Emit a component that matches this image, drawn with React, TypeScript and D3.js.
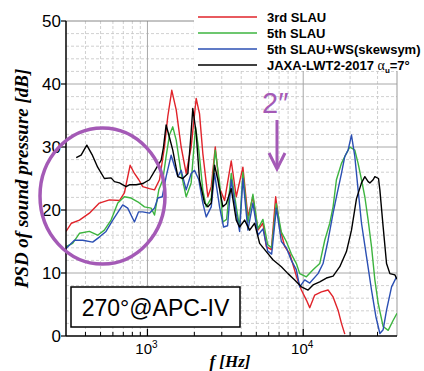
import React from "react";
import * as d3 from "d3";

// [frequency Hz, PSD dB]
const slau3rd: [number, number][] = [
  [300, 16.6], [325, 17.9], [366, 18.4], [424, 19.5], [491, 21.1], [570, 21.6], [661, 21.5], [711, 22.7],
  [774, 27.1], [825, 25.8], [880, 24.8], [932, 23.7], [1030, 23.4], [1110, 23.2], [1195, 24.8], [1286, 30.0],
  [1350, 34.8], [1433, 39.0], [1530, 35.9], [1646, 30.0], [1773, 25.8], [1908, 30.0], [2055, 37.7], [2159, 35.3],
  [2267, 29.0], [2442, 22.1], [2568, 23.7], [2725, 30.0], [2904, 23.5], [3127, 21.5], [3451, 27.8], [3717, 22.1],
  [4100, 26.8], [4415, 18.9], [4754, 22.1], [5120, 16.8], [5513, 17.9], [5795, 14.2], [6241, 13.7], [6655, 22.1],
  [7061, 17.3], [7603, 14.2], [8188, 13.1], [9037, 9.5], [9730, 7.3], [10480, 5.7], [11010, 4.5], [11857, 6.5],
  [13090, 7.0], [14440, 7.3], [15550, 6.2], [16740, 4.1], [17600, 2.0], [18489, 0.3],
];

const slau5th: [number, number][] = [
  [300, 14.2], [331, 14.7], [366, 16.3], [424, 16.6], [479, 16.0], [529, 16.8], [584, 18.4], [645, 21.1],
  [711, 22.1], [785, 21.9], [866, 21.3], [957, 20.5], [1056, 20.3], [1110, 19.2], [1183, 23.2], [1255, 24.8],
  [1318, 28.5], [1385, 31.9], [1454, 33.2], [1530, 31.1], [1646, 25.8], [1773, 22.1], [1908, 24.3], [2035, 33.2],
  [2137, 29.5], [2267, 23.2], [2384, 20.5], [2568, 21.9], [2725, 29.5], [2904, 24.3], [3049, 18.1], [3221, 18.5],
  [3451, 25.8], [3717, 20.5], [3905, 17.3], [4100, 26.0], [4415, 18.0], [4754, 22.5], [5120, 17.0], [5513, 18.5],
  [5910, 14.5], [6270, 14.0], [6705, 21.0], [7238, 16.5], [7793, 15.0], [8393, 13.0], [9037, 11.5], [9495, 9.9],
  [10480, 9.4], [11560, 10.5], [12768, 11.5], [13749, 15.2], [14806, 17.9], [15550, 20.5], [16340, 24.8],
  [17600, 27.4], [18950, 29.0], [19910, 30.0], [21441, 29.5], [22510, 27.4], [23670, 24.8], [24864, 22.1],
  [26110, 18.4], [27440, 14.2], [28833, 8.9], [30280, 5.2], [32600, 1.5], [35110, 0.9], [37810, 2.5], [40000, 3.6],
];

const slau5thWS: [number, number][] = [
  [300, 13.9], [340, 15.2], [384, 15.2], [445, 14.9], [491, 15.7], [542, 16.6], [599, 18.4], [694, 20.8],
  [747, 20.3], [825, 18.1], [876, 19.7], [932, 19.7], [1030, 19.5], [1110, 20.3], [1166, 21.9], [1244, 22.1],
  [1318, 25.3], [1420, 28.7], [1492, 26.9], [1567, 25.3], [1646, 26.3], [1773, 23.2], [1908, 25.8], [2005, 26.3],
  [2137, 24.8], [2267, 21.1], [2384, 18.9], [2568, 20.5], [2697, 25.8], [2904, 20.5], [3081, 17.3], [3270, 17.5],
  [3451, 24.8], [3717, 19.5], [3905, 16.6], [4100, 25.0], [4415, 16.8], [4754, 21.1], [5120, 16.0], [5513, 17.0],
  [5910, 13.5], [6270, 13.0], [6723, 20.3], [7238, 15.0], [7793, 14.0], [8393, 12.0], [9037, 10.5], [9495, 7.8],
  [10224, 8.9], [11010, 8.4], [12450, 9.9], [13410, 11.5], [14440, 15.2], [15550, 19.5], [16340, 22.1],
  [17600, 25.8], [18489, 28.5], [19410, 29.5], [20410, 31.9], [21441, 28.5], [22510, 23.2], [23670, 17.9],
  [25490, 12.6], [27440, 7.3], [29260, 3.1], [31050, 0.4], [32600, 1.0], [34270, 4.1], [36910, 7.8], [39740, 9.4],
];

const jaxa: [number, number][] = [
  [349, 28.3], [375, 28.7], [408, 30.3], [441, 28.8], [479, 26.8], [529, 25.0], [584, 25.1], [614, 24.5],
  [661, 24.3], [729, 23.7], [766, 24.0], [846, 24.0], [932, 24.2], [1030, 24.8], [1138, 26.6], [1225, 27.9],
  [1268, 30.0], [1318, 33.5], [1385, 31.5], [1454, 29.5], [1567, 25.3], [1686, 25.0], [1817, 25.8], [1890, 31.0],
  [1955, 36.1], [2055, 32.2], [2159, 24.8], [2326, 21.1], [2442, 20.5], [2568, 21.1], [2697, 27.1], [2832, 24.8],
  [3049, 20.5], [3205, 21.0], [3451, 23.4], [3717, 18.4], [3905, 17.3], [4205, 18.4], [4528, 16.8], [4876, 17.9],
  [5251, 14.7], [5795, 13.4], [6393, 12.1], [7238, 11.0], [7983, 9.9], [8817, 8.9], [9730, 7.8], [10735, 7.3],
  [11560, 8.1], [12768, 8.6], [14090, 9.2], [15550, 9.5], [17170, 11.0], [18950, 13.4], [20410, 16.8],
  [21980, 21.8], [23670, 24.3], [24864, 25.3], [26110, 24.5], [26775, 24.3], [28110, 24.8], [28833, 25.3],
  [30430, 25.0], [31050, 23.2], [32600, 17.3], [34270, 11.5], [36006, 9.9], [38774, 9.7], [40000, 9.0],
];

const seriesNames = ["3rd SLAU", "5th SLAU", "5th SLAU+WS(skewsym)", "JAXA-LWT2-2017 "];
const seriesColors = ["#e0232a", "#3db43f", "#2b4fb3", "#000000"];
const seriesData = [slau3rd, slau5th, slau5thWS, jaxa];

const yTicks = [0, 10, 20, 30, 40, 50];
const yMinor = [2, 4, 6, 8, 12, 14, 16, 18, 22, 24, 26, 28, 32, 34, 36, 38, 42, 44, 46, 48];
const xMajorExp = [3, 4];
const xMinor = [400, 500, 600, 700, 800, 900, 2000, 3000, 4000, 5000, 6000, 7000, 8000, 9000, 20000, 30000];

const W = 424;
const H = 371;
const L = 66, R = 397, T = 21, B = 336;
const purple = "#a45ab6";

export default function App() {
  const x = d3.scaleLog().domain([300, 40000]).range([L, R]);
  const y = d3.scaleLinear().domain([0, 50]).range([B, T]);
  const line = d3
    .line<[number, number]>()
    .x((d) => x(d[0]))
    .y((d) => y(d[1]));

  const sans = "'Liberation Sans', Arial, sans-serif";
  const serif = "'Liberation Serif', 'Times New Roman', serif";

  return (
    <svg
      width={W}
      height={H}
      style={{ position: "absolute", left: 0, top: 0, background: "#fff" }}
    >
      <defs>
        <clipPath id="plotclip">
          <rect x={L} y={T} width={R - L} height={B - T} />
        </clipPath>
      </defs>
      {/* grid */}
      {yMinor.map((v) => (
        <line key={"ym" + v} x1={L} x2={R} y1={y(v)} y2={y(v)} stroke="#c4c4c4" strokeWidth={0.8} strokeDasharray="3,2" />
      ))}
      {xMinor.map((v) => (
        <line key={"xm" + v} x1={x(v)} x2={x(v)} y1={T} y2={B} stroke="#c4c4c4" strokeWidth={0.8} strokeDasharray="3,2" />
      ))}
      {yTicks.slice(1, 5).map((v) => (
        <line key={"yg" + v} x1={L} x2={R} y1={y(v)} y2={y(v)} stroke="#a8a8a8" strokeWidth={1} />
      ))}
      {xMajorExp.map((e) => (
        <line key={"xg" + e} x1={x(Math.pow(10, e))} x2={x(Math.pow(10, e))} y1={T} y2={B} stroke="#a8a8a8" strokeWidth={1} />
      ))}
      {/* frame */}
      <line x1={L} x2={R} y1={T} y2={T} stroke="#888" strokeWidth={1} />
      <line x1={R} x2={R} y1={T} y2={B} stroke="#999" strokeWidth={1} />

      {/* legend background */}
      <rect x={194} y={4} width={W - 194} height={67} fill="#fff" />

      {/* data */}
      <g clipPath="url(#plotclip)">
        {seriesData.map((s, i) => (
          <path key={i} d={line(s) || ""} fill="none" stroke={seriesColors[i]} strokeWidth={1.4} strokeLinejoin="round" />
        ))}
      </g>

      {/* axes */}
      <line x1={L} x2={L} y1={T} y2={B} stroke="#000" strokeWidth={1.5} />
      <line x1={L} x2={R} y1={B} y2={B} stroke="#000" strokeWidth={1.5} />
      {yTicks.map((v) => (
        <g key={"yt" + v}>
          <line x1={L - 5} x2={L} y1={y(v)} y2={y(v)} stroke="#000" strokeWidth={1.2} />
          <text x={L - 5} y={y(v) + 6} textAnchor="end" fontFamily={sans} fontSize={17} fill="#000">
            {v}
          </text>
        </g>
      ))}
      {xMinor.map((v) => (
        <line key={"xt" + v} x1={x(v)} x2={x(v)} y1={B} y2={B - 4} stroke="#000" strokeWidth={1} />
      ))}
      {xMajorExp.map((e) => (
        <g key={"xl" + e}>
          <line x1={x(Math.pow(10, e))} x2={x(Math.pow(10, e))} y1={B} y2={B - 7} stroke="#000" strokeWidth={1.2} />
          <text x={x(Math.pow(10, e)) - 1} y={354} textAnchor="middle" fontFamily={sans} fontSize={15} fill="#000">
            10
            <tspan fontSize={10} dy={-6}>
              {e}
            </tspan>
          </text>
        </g>
      ))}

      {/* axis titles */}
      <text
        transform={`translate(28, ${(T + B) / 2}) rotate(-90)`}
        textAnchor="middle"
        fontFamily={serif}
        fontStyle="italic"
        fontWeight="bold"
        fontSize={19}
        fill="#000"
      >
        PSD of sound pressure [dB]
      </text>
      <text x={230} y={367} textAnchor="middle" fontFamily={serif} fontStyle="italic" fontWeight="bold" fontSize={17} fill="#000">
        f [Hz]
      </text>

      {/* legend */}
      {seriesNames.map((n, i) => (
        <g key={"lg" + i}>
          <line x1={198} x2={257} y1={17 + i * 16} y2={17 + i * 16} stroke={seriesColors[i]} strokeWidth={1.4} />
          <text x={267} y={22 + i * 16} fontFamily={sans} fontWeight="bold" fontSize={13} fill="#000">
            {n}
            {i === 3 ? (
              <>
                <tspan fontFamily={serif} fontWeight="normal" fontSize={14}>α</tspan>
                <tspan fontSize={8} dy={3}>u</tspan>
                <tspan dy={-3}>=7°</tspan>
              </>
            ) : null}
          </text>
        </g>
      ))}

      {/* label box */}
      <rect x={71} y={287} width={169} height={40} fill="#fff" stroke="#000" strokeWidth={1.5} />
      <text x={155.5} y={316} textAnchor="middle" fontFamily={sans} fontSize={23} fill="#000">
        270°@APC-IV
      </text>

      {/* purple annotations */}
      <ellipse cx={102.5} cy={196} rx={62.5} ry={68} fill="none" stroke={purple} strokeWidth={3.5} />
      <text x={262} y={113} fontFamily={sans} fontSize={29} fill={purple}>
        2″
      </text>
      <line x1={277} x2={277} y1={120} y2={168} stroke={purple} strokeWidth={3} />
      <polyline points="269,153 277,169 285,153" fill="none" stroke={purple} strokeWidth={3} strokeLinejoin="miter" />
    </svg>
  );
}
